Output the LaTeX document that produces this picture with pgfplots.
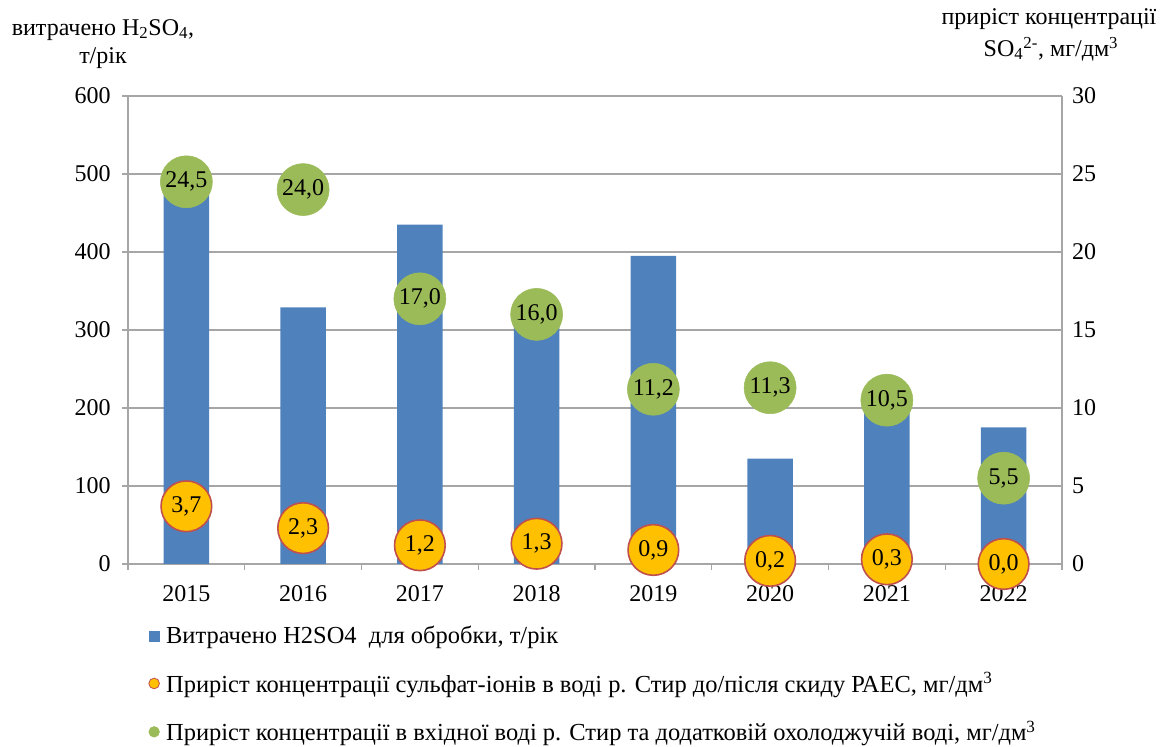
\documentclass[border=0pt]{standalone}
\usepackage{pgfplots}
\pgfplotsset{compat=1.18}
\usepackage{pgfplotstable}
\usepackage{fontspec}
\setmainfont{Liberation Serif}
\setsansfont{Liberation Serif}
\definecolor{barblue}{HTML}{4F81BD}
\definecolor{bgreen}{HTML}{9BBB59}
\definecolor{borange}{HTML}{FFC000}
\definecolor{bred}{HTML}{C0504D}
\definecolor{gridgray}{HTML}{A6A6A6}
\newcommand\myfont{\rmfamily\fontsize{18pt}{21pt}\selectfont}
\newcommand\myleg{\rmfamily\fontsize{18.35pt}{21pt}\selectfont}

\pgfplotstableread{
x y
0 485
1 329
2 435
3 315
4 395
5 135
6 200
7 175
}\bars

\pgfplotstableread{
x y lab
0 3.7 3,7
1 2.3 2,3
2 1.2 1,2
3 1.3 1,3
4 0.9 0,9
5 0.2 0,2
6 0.3 0,3
7 0.0 0,0
}\orange

\pgfplotstableread{
x y lab
0 24.5 24,5
1 24.0 24,0
2 17.0 17,0
3 16.0 16,0
4 11.2 11,2
5 11.3 11,3
6 10.5 10,5
7 5.5 5,5
}\green

\begin{document}
\begin{tikzpicture}
\path[use as bounding box] (0,0) rectangle (870pt,559.5pt);
\begin{axis}[
  at={(96pt,136.5pt)}, anchor=south west,
  scale only axis, width=700.5pt, height=351pt,
  xmin=-0.5, xmax=7.5, ymin=0, ymax=600,
  axis x line*=bottom, axis y line*=left,
  axis line style={gridgray, line width=0.8pt},
  xtick={0,...,7}, xticklabels={2015,2016,2017,2018,2019,2020,2021,2022},
  minor xtick={-0.5,0.5,...,7.5},
  major x tick style={draw=none},
  minor x tick style={gridgray, line width=0.8pt},
  minor tick length=4.5pt,
  ytick={0,100,...,600},
  major y tick style={gridgray, line width=0.8pt},
  major tick length=4.5pt,
  tick align=outside,
  ymajorgrids, grid style={gridgray, line width=0.8pt},
  tick label style={font=\myfont},
  /pgf/number format/assume math mode=true,
  xticklabel style={yshift=-8pt},
  yticklabel style={xshift=-5pt},
]
\addplot[ybar, bar width=0.39, fill=barblue, draw=none] table[x=x,y=y] {\bars};
\end{axis}
\begin{axis}[
  at={(96pt,136.5pt)}, anchor=south west,
  scale only axis, width=700.5pt, height=351pt,
  xmin=-0.5, xmax=7.5, ymin=0, ymax=30,
  axis x line=none, axis y line*=right,
  axis line style={gridgray, line width=0.8pt},
  ytick={0,5,...,30}, major tick length=0pt,
  tick label style={font=\myfont},
  yticklabel style={xshift=4pt},
  /pgf/number format/assume math mode=true,
  clip=false,
  legend style={at={(axis description cs:0.022,-0.13)}, anchor=north west,
    draw=none, fill=none, font=\myleg, row sep=18pt, inner sep=0pt,
    nodes={inner sep=1pt},
    /tikz/every odd column/.append style={column sep=4pt}},
  legend cell align=left,
]
\addplot[only marks, mark=*, mark size=19.5pt, mark options={fill=bgreen, draw=bgreen},
  point meta=explicit symbolic, nodes near coords, nodes near coords align=center,
  every node near coord/.append style={font=\myfont, anchor=center, text=black}, forget plot]
  table[x=x,y=y,meta=lab] {\green};
\addplot[only marks, mark=*, mark size=19pt, mark options={fill=borange, draw=bred, line width=1.2pt},
  point meta=explicit symbolic, nodes near coords, nodes near coords align=center,
  every node near coord/.append style={font=\myfont, anchor=center, text=black}, forget plot]
  table[x=x,y=y,meta=lab] {\orange};
\addlegendimage{only marks, mark=square*, mark size=3.5pt, color=barblue}
\addlegendentry{Витрачено H2SO4\ \ для обробки, т/рік}
\addlegendimage{only marks, mark=*, mark size=4pt, mark options={fill=borange, draw=bred, line width=0.6pt}}
\addlegendentry{Приріст концентрації сульфат-іонів в воді р. Стир до/після скиду РАЕС, мг/дм\textsuperscript{3}}
\addlegendimage{only marks, mark=*, mark size=4pt, color=bgreen}
\addlegendentry{Приріст концентрації в вхідної воді р. Стир та додатковій охолоджучій воді, мг/дм\textsuperscript{3}}
\end{axis}
\begin{scope}[x=0.75pt,y=0.75pt]
\node[font=\myfont, anchor=center] at (103,716) {витрачено H\textsubscript{2}SO\textsubscript{4},};
\node[font=\myfont, anchor=center] at (103,688) {т/рік};
\node[font=\myfont, anchor=center] at (1049,727) {приріст концентрації};
\node[font=\myfont, anchor=center] at (1051,697) {SO\textsubscript{4}\textsuperscript{2-}, мг/дм\textsuperscript{3}};
\end{scope}
\end{tikzpicture}
\end{document}
